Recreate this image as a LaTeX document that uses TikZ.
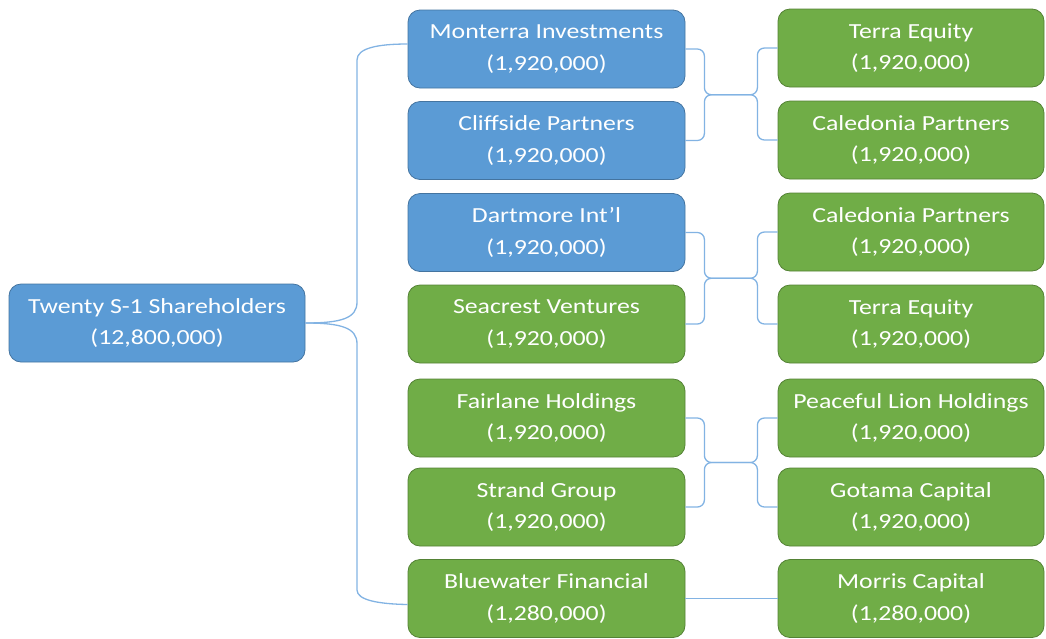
\documentclass[tikz,border=0pt]{standalone}
\usepackage{fontspec}
\setmainfont{Carlito}[FakeStretch=1.2]
\usetikzlibrary{positioning,calc}
\definecolor{boxblue}{HTML}{5B9BD5}
\definecolor{boxgreen}{HTML}{70AD47}
\definecolor{linkblue}{HTML}{82B3E3}
\tikzset{blu/.style={draw=boxblue!75!black, fill=boxblue, line width=0.8pt, rounded corners=12pt,
    minimum height=78pt, inner sep=0, text=white, align=center, font=\fontsize{21.5}{31.5}\selectfont},
  grn/.style={blu, draw=boxgreen!75!black, fill=boxgreen},
  lnk/.style={draw=linkblue, line width=1.3pt}}

\begin{document}
\begin{tikzpicture}[x=1pt, y=-1pt]
    \useasboundingbox (0,0) rectangle (1046,638);

    \node[blu, minimum width=296pt](R) at (157, 323) {Twenty S-1 Shareholders\\(12,800,000)};

    % middle column
    \foreach \n/\y/\s/\t/\v in {1/49/blu/{Monterra Investments}/{(1,920,000)},
        2/140.5/blu/{Cliffside Partners}/{(1,920,000)},
        3/232.5/blu/{Dartmore Int’l}/{(1,920,000)},
        4/324/grn/{Seacrest Ventures}/{(1,920,000)},
        5/418/grn/{Fairlane Holdings}/{(1,920,000)},
        6/507/grn/{Strand Group}/{(1,920,000)},
        7/598.5/grn/{Bluewater Financial}/{(1,280,000)}}
    {
      \node[\s, minimum width=277pt](A\n) at (546.5, \y) {\t\\\v};
    }
    % right column
    \foreach \n/\y/\t/\v in {1/48/{Terra Equity}/{(1,920,000)},
        2/140/{Caledonia Partners}/{(1,920,000)},
        3/232/{Caledonia Partners}/{(1,920,000)},
        4/324/{Terra Equity}/{(1,920,000)},
        5/418/{Peaceful Lion Holdings}/{(1,920,000)},
        6/507/{Gotama Capital}/{(1,920,000)},
        7/598.5/{Morris Capital}/{(1,280,000)}}
    {
      \node[grn, minimum width=266pt](C\n) at (911, \y) {\t\\\v};
    }

    \draw[lnk] (R.east) .. controls (342,323) and (357,318) .. (357,302) -- (357,60)
      .. controls (357,48) and (378,44) .. ([yshift=5pt]A1.west);
    \draw[lnk] (R.east) .. controls (342,323) and (357,328) .. (357,344) -- (357,590)
      .. controls (357,600) and (378,604) .. ([yshift=-6pt]A7.west);

    \foreach \i in {1,3,5} {
      \pgfmathparse{int(\i+1)}
      \edef\j{\pgfmathresult}%
      \coordinate (M\i) at ($(A\i.east)!0.5!(A\j.east)$);
      \draw[lnk, rounded corners=7pt] (A\i.east) -| ([xshift=19pt]M\i) -- ([xshift=72pt]M\i) |- (C\i.west);
      \draw[lnk, rounded corners=7pt] (A\j.east) -| ([xshift=19pt]M\i) -- ([xshift=72pt]M\i) |- (C\j.west);
    }
    \draw[lnk] (A7) -- (C7);
  \end{tikzpicture}
\end{document}
